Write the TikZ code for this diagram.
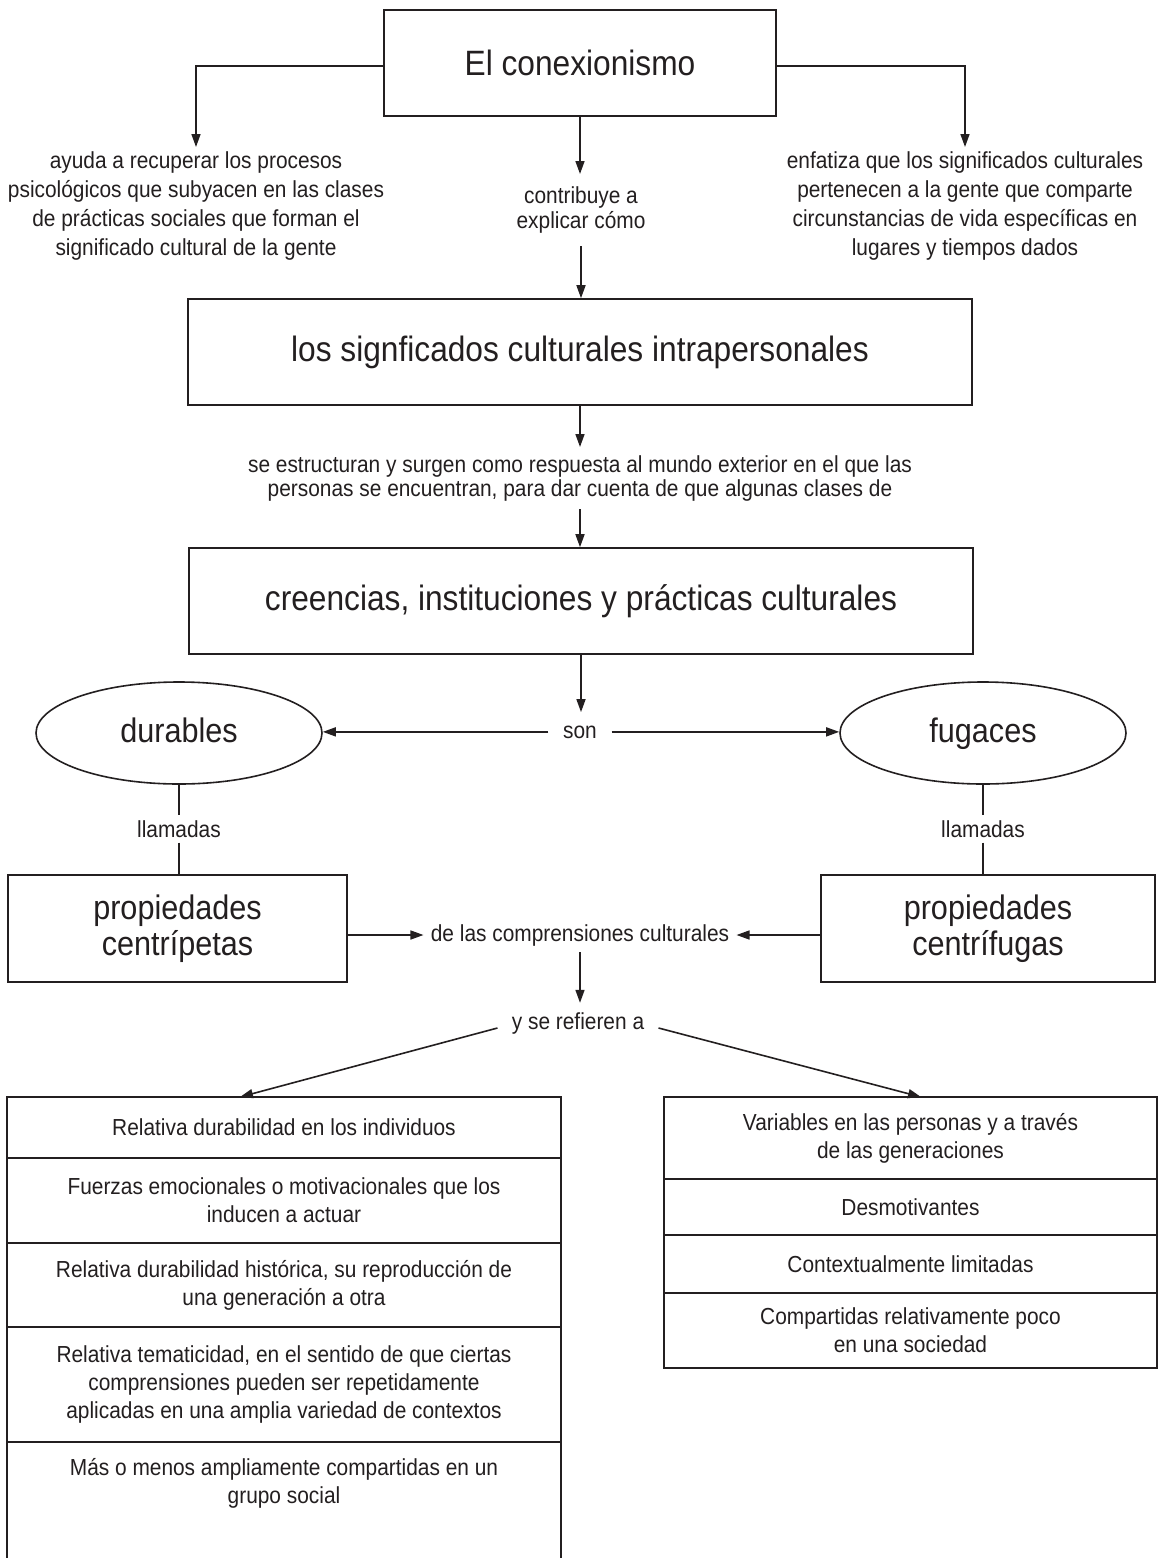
\documentclass[tikz,border=0pt]{standalone}
\usepackage{fontspec}
\setmainfont{Liberation Sans}[FakeStretch=0.9]
\usetikzlibrary{arrows.meta,shapes.geometric}
\definecolor{ink}{RGB}{35,31,32}
\newcommand{\smallf}{\fontsize{11.6pt}{14.6pt}\selectfont}
\newcommand{\cellf}{\fontsize{11.6pt}{14pt}\selectfont}
\newcommand{\bigf}{\fontsize{17.6pt}{20pt}\selectfont}
\newcommand{\propf}{\fontsize{17pt}{18pt}\selectfont}
\tikzset{
  ln/.style={draw=ink, line width=0.8pt},
  arr/.style={ln, -{Triangle[length=6.5pt,width=4.5pt]}},
  bigbox/.style={draw=ink, line width=0.8pt, minimum height=53pt, inner sep=0pt, text=ink, font=\bigf},
  propbox/.style={draw=ink, line width=0.8pt, minimum height=53.5pt, inner sep=0pt, align=center, text=ink, font=\propf},
  oval/.style={ellipse, draw=ink, line width=0.8pt, minimum width=143pt, minimum height=51pt, inner sep=0pt, text=ink, font=\propf, text height=12.5pt, text depth=3.5pt},
  txt/.style={text=ink, align=center, font=\smallf},
  cellL/.style={draw=ink, line width=0.8pt, minimum width=277pt, inner sep=0pt, outer sep=0pt, align=center, text=ink, font=\cellf},
  cellR/.style={draw=ink, line width=0.8pt, minimum width=246.5pt, inner sep=0pt, outer sep=0pt, align=center, text=ink, font=\cellf}
}
\begin{document}
\begin{tikzpicture}[x=0.5pt,y=-0.5pt]
\useasboundingbox (0,0) rectangle (1159,1558);
\fill[white] (0,0) rectangle (1159,1558);
\clip (0,0) rectangle (1159,1558);

% boxes and labels
\node[bigbox, minimum width=196pt] (con) at (580,63) {El conexionismo};
\node[txt, anchor=north, inner sep=2pt] (ayuda) at (196,147) {ayuda a recuperar los procesos\\psicológicos que subyacen en las clases\\de prácticas sociales que forman el\\significado cultural de la gente};
\node[txt, anchor=north, inner sep=2pt] (enf) at (965,147) {enfatiza que los significados culturales\\pertenecen a la gente que comparte\\circunstancias de vida específicas en\\lugares y tiempos dados};
\node[txt, anchor=north, inner xsep=2pt, inner ysep=6pt, font=\fontsize{11.6pt}{12.8pt}\selectfont] (contrib) at (581,174) {contribuye a\\explicar cómo};
\node[bigbox, minimum width=392pt] (sig) at (580,352) {los signficados culturales intrapersonales};
\node[txt, anchor=north, inner xsep=2pt, inner ysep=4pt, font=\fontsize{11.6pt}{12pt}\selectfont] (estr) at (580,447) {se estructuran y surgen como respuesta al mundo exterior en el que las\\personas se encuentran, para dar cuenta de que algunas clases de};
\node[bigbox, minimum width=392pt] (cre) at (581,601) {creencias, instituciones y prácticas culturales};
\node[txt, anchor=base, inner xsep=7.25pt, inner ysep=6.5pt] (son) at (580,738) {son};
\node[oval] (dur) at (179,733) {durables};
\node[oval] (fug) at (983,733) {fugaces};
\node[txt, anchor=base, inner xsep=2pt, inner ysep=2.5pt] (llamL) at (179,837) {llamadas};
\node[txt, anchor=base, inner xsep=2pt, inner ysep=2.5pt] (llamR) at (983,837) {llamadas};
\node[propbox, minimum width=169.5pt] (propL) at (177.5,928.5) {propiedades\\centrípetas};
\node[propbox, minimum width=167pt] (propR) at (988,928.5) {propiedades\\centrífugas};
\node[txt, anchor=base, inner xsep=3.5pt, inner ysep=3pt] (delas) at (580,941) {de las comprensiones culturales};
\node[txt, anchor=base, inner xsep=7pt, inner ysep=4.5pt] (yse) at (578,1029) {y se refieren a};

% left table
\node[cellL, minimum height=30.5pt] (tL1) at (284,1127.5) {Relativa durabilidad en los individuos};
\node[cellL, minimum height=42.5pt] (tL2) at (284,1200.5) {Fuerzas emocionales o motivacionales que los\\inducen a actuar};
\node[cellL, minimum height=42pt] (tL3) at (284,1285) {Relativa durabilidad histórica, su reproducción de\\una generación a otra};
\node[cellL, minimum height=57.5pt] (tL4) at (284,1384.5) {Relativa tematicidad, en el sentido de que ciertas\\comprensiones pueden ser repetidamente\\aplicadas en una amplia variedad de contextos};
\node[txt, font=\cellf, inner sep=0pt] (tL5) at (284,1483) {Más o menos ampliamente compartidas en un\\grupo social};
\draw[ln] (tL4.south west) -- ++(0,200);
\draw[ln] (tL4.south east) -- ++(0,200);

% right table
\node[cellR, minimum height=41pt] (tR1) at (910.5,1138) {Variables en las personas y a través\\de las generaciones};
\node[cellR, minimum height=28pt] (tR2) at (910.5,1207) {Desmotivantes};
\node[cellR, minimum height=29pt] (tR3) at (910.5,1264) {Contextualmente limitadas};
\node[cellR, minimum height=37.5pt] (tR4) at (910.5,1330.5) {Compartidas relativamente poco\\en una sociedad};

% connectors
\draw[arr] ([yshift=-1.5pt]con.west) -| (ayuda.north);
\draw[arr] ([yshift=-1.5pt]con.east) -| (enf.north);
\draw[arr] (con.south) -- (con.south |- contrib.north);
\draw[arr] (contrib.south) -- (contrib.south |- sig.north);
\draw[arr] (sig.south) -- (estr.north);
\draw[arr] (estr.south) -- (estr.south |- cre.north);
\draw[arr] (cre.south) -- (cre.south |- son.north);
\draw[arr] (son.west) -- (son.west -| dur.east);
\draw[arr] (son.east) -- (son.east -| fug.west);
\draw[ln] (dur.south) -- (llamL.north);
\draw[ln] (llamL.south) -- (llamL.south |- propL.north);
\draw[ln] (fug.south) -- (llamR.north);
\draw[ln] (llamR.south) -- (llamR.south |- propR.north);
\draw[arr] (propL.east |- delas.west) -- (delas.west);
\draw[arr] (propR.west |- delas.east) -- (delas.east);
\draw[arr] (delas.south) -- (delas.south |- yse.north);
\draw[arr] ([yshift=-2.5pt]yse.west) -- ([xshift=-22pt]tL1.north);
\draw[arr] ([yshift=-2.5pt]yse.east) -- ([xshift=5.25pt]tR1.north);
\end{tikzpicture}
\end{document}
